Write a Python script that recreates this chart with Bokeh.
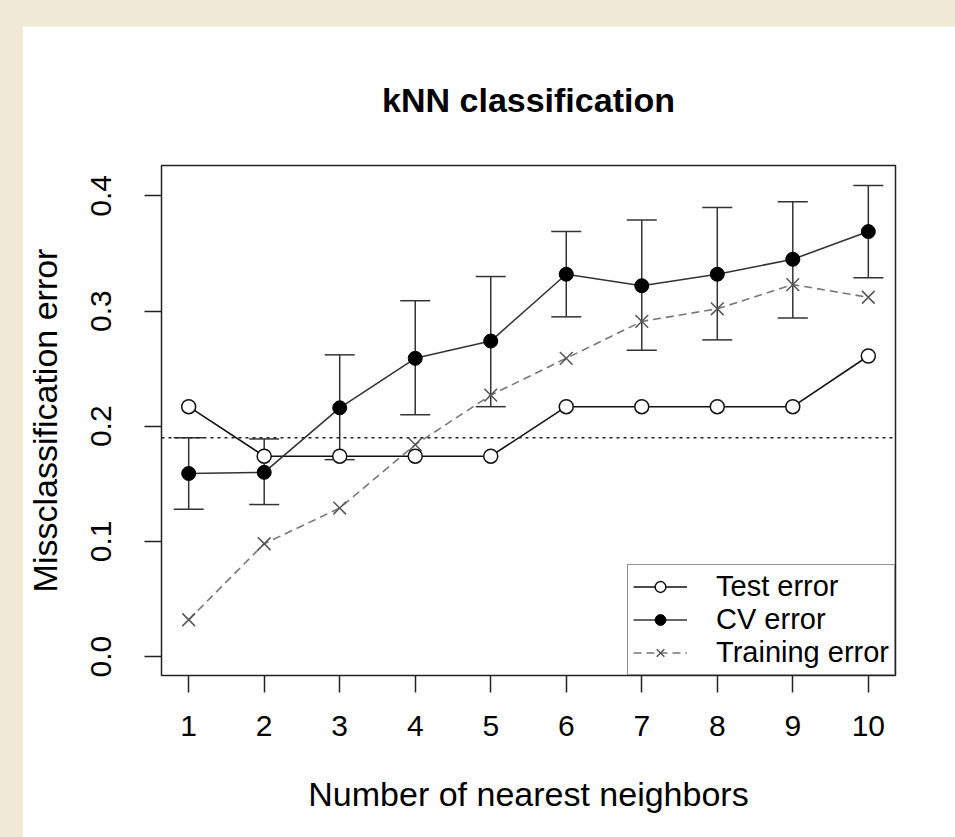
from bokeh.plotting import figure
from bokeh.models import (Range1d, FixedTicker, NumeralTickFormatter, Span, Whisker,
                          ColumnDataSource, Legend, LegendItem, TeeHead, Spacer)
from bokeh.layouts import column, row
from bokeh.embed import file_html
from bokeh.resources import INLINE

# ---- data ----
k = [1, 2, 3, 4, 5, 6, 7, 8, 9, 10]
test_error = [0.217, 0.174, 0.174, 0.174, 0.174, 0.217, 0.217, 0.217, 0.217, 0.261]
cv_error = [0.159, 0.160, 0.216, 0.259, 0.274, 0.332, 0.322, 0.332, 0.345, 0.369]
cv_upper = [0.190, 0.189, 0.262, 0.309, 0.330, 0.369, 0.379, 0.390, 0.395, 0.409]
cv_lower = [0.128, 0.132, 0.171, 0.210, 0.217, 0.295, 0.266, 0.275, 0.294, 0.329]
train_error = [0.032, 0.098, 0.129, 0.184, 0.227, 0.259, 0.291, 0.302, 0.323, 0.312]
threshold = 0.19
x_ticks = k
y_ticks = [0.0, 0.1, 0.2, 0.3, 0.4]
series_labels = ["Test error", "CV error", "Training error"]

FONT = "Liberation Sans"

src = ColumnDataSource(dict(k=k, test=test_error, cv=cv_error, upper=cv_upper,
                            lower=cv_lower, train=train_error))

p = figure(width=933, height=811, output_backend="svg", toolbar_location=None,
           x_range=Range1d(0.64, 10.36), y_range=Range1d(-0.0164, 0.4264),
           min_border_left=139, min_border_right=60, min_border_top=139,
           min_border_bottom=162, title="kNN classification")
p.title.align = "center"
p.title.text_font = FONT
p.title.text_font_size = "34px"
p.title.text_font_style = "bold"
p.title.text_color = "black"
p.title.standoff = 94
p.grid.visible = False
p.outline_line_color = "#222222"
p.outline_line_width = 1.5
p.background_fill_color = "white"
p.border_fill_color = "white"

for ax in (p.xaxis[0], p.yaxis[0]):
    ax.axis_line_color = None
    ax.major_tick_out = 17
    ax.major_tick_in = 0
    ax.minor_tick_line_color = None
    ax.major_tick_line_color = "#222222"
    ax.major_tick_line_width = 1.5
    ax.major_label_text_font = FONT
    ax.major_label_text_font_size = "30px"
    ax.major_label_text_color = "black"
    ax.axis_label_text_font = FONT
    ax.axis_label_text_font_size = "34px"
    ax.axis_label_text_font_style = "normal"
    ax.axis_label_text_color = "black"

p.xaxis[0].ticker = FixedTicker(ticks=x_ticks)
p.xaxis[0].axis_label = "Number of nearest neighbors"
p.xaxis[0].major_label_standoff = 23
p.xaxis[0].axis_label_standoff = 36

p.yaxis[0].ticker = FixedTicker(ticks=y_ticks)
p.yaxis[0].formatter = NumeralTickFormatter(format="0.0")
p.yaxis[0].major_label_orientation = "vertical"
p.yaxis[0].axis_label = "Missclassification error"
p.yaxis[0].major_label_standoff = 33
p.yaxis[0].axis_label_standoff = 25

# reference threshold line
p.add_layout(Span(location=threshold, dimension="width", line_color="#222222",
                  line_width=1.5, line_dash="3 4"))

# CV error bars
p.add_layout(Whisker(source=src, base="k", upper="upper", lower="lower",
                     line_color="#333333", line_width=1.5,
                     upper_head=TeeHead(size=30, line_color="#333333", line_width=1.5),
                     lower_head=TeeHead(size=30, line_color="#333333", line_width=1.5)))

r_tr_line = p.line("k", "train", source=src, line_color="#777777", line_width=1.6,
                   line_dash="8 5")
r_tr_pts = p.scatter("k", "train", source=src, marker="x", size=18,
                     line_color="#555555", line_width=1.5)
r_test_line = p.line("k", "test", source=src, line_color="#111111", line_width=1.6)
r_test_pts = p.scatter("k", "test", source=src, marker="circle", size=14,
                       fill_color="white", line_color="#111111", line_width=1.5)
r_cv_line = p.line("k", "cv", source=src, line_color="#333333", line_width=1.6)
r_cv_pts = p.scatter("k", "cv", source=src, marker="circle", size=14,
                     fill_color="black", line_color="black", line_width=1)

legend = Legend(items=[
    LegendItem(label=series_labels[0], renderers=[r_test_line, r_test_pts]),
    LegendItem(label=series_labels[1], renderers=[r_cv_line, r_cv_pts]),
    LegendItem(label=series_labels[2], renderers=[r_tr_line, r_tr_pts]),
], location="bottom_right")
legend.border_line_color = "#222222"
legend.border_line_width = 1.5
legend.background_fill_alpha = 1
legend.margin = 0
legend.padding = 5
legend.spacing = 0
legend.glyph_width = 54
legend.glyph_height = 27
legend.label_height = 27
legend.label_standoff = 29
legend.label_text_font = FONT
legend.label_text_font_size = "29px"
legend.label_text_color = "black"
p.add_layout(legend)

layout = column(Spacer(width=955, height=26),
                row(Spacer(width=22, height=811), p),
                styles={"background-color": "#EFE9D5"})

open("out.html", "w").write(file_html(layout, INLINE))
